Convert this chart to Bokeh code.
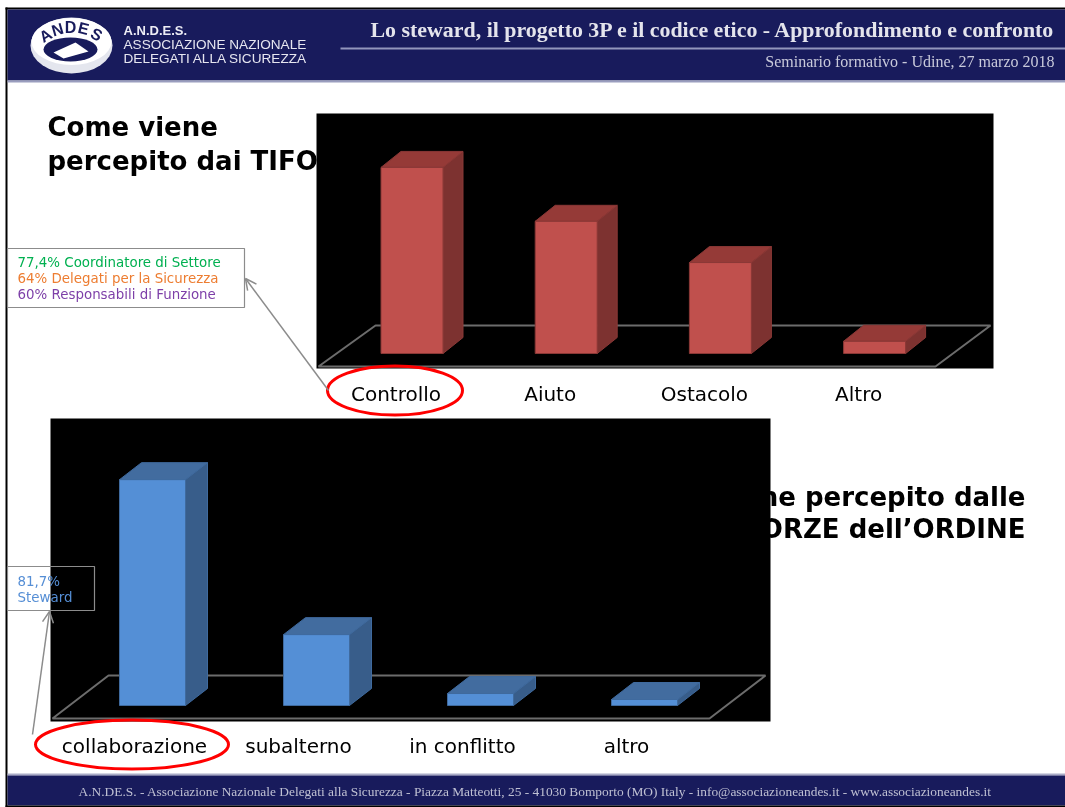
from bokeh.plotting import figure
from bokeh.models import Range1d, Arrow, OpenHead
from bokeh.core.properties import value
from bokeh.embed import file_html
from bokeh.resources import INLINE

# ---- data (share of answers, %) ----
tifosi_categories = ["Controllo", "Aiuto", "Ostacolo", "Altro"]
tifosi_values = [44.2, 31.4, 21.6, 2.9]
forze_categories = ["collaborazione", "subalterno", "in conflitto", "altro"]
forze_values = [71.7, 22.5, 3.8, 1.9]

header_title = "Lo steward, il progetto 3P e il codice etico - Approfondimento e confronto"
header_sub = "Seminario formativo - Udine, 27 marzo 2018"
footer_text = ("A.N.DE.S. - Associazione Nazionale Delegati alla Sicurezza - Piazza Matteotti, 25 - "
               "41030 Bomporto (MO) Italy - info@associazioneandes.it - www.associazioneandes.it")
logo_lines = ["A.N.D.E.S.", "ASSOCIAZIONE NAZIONALE", "DELEGATI ALLA SICUREZZA"]
logo_letters = list("ANDES")
callout_tifosi = ["77,4% Coordinatore di Settore", "64% Delegati per la Sicurezza", "60% Responsabili di Funzione"]
callout_tifosi_colors = ["#00B050", "#ED7D31", "#7D3FA8"]
callout_forze = ["81,7%", "Steward"]

W, H = 1065, 807
NAVY = "#181B5C"
VERDANA = value("DejaVu Sans")
SERIF = value("Liberation Serif")
SANS = value("Liberation Sans")

p = figure(width=W, height=H, x_range=Range1d(0, W), y_range=Range1d(H, 0),
           output_backend="svg", toolbar_location=None, x_axis_location=None, y_axis_location=None,
           min_border=0, outline_line_color=None, background_fill_color="white",
           border_fill_color="white")
p.grid.visible = False
p.styles = {"position": "fixed", "left": "0px", "top": "0px"}


def band(x0, x1, y0, y1, color):
    p.quad(left=x0, right=x1, top=y0, bottom=y1, fill_color=color, line_color=None)


def label(x, y, s, size, color="black", font=VERDANA, style="normal", align="left"):
    p.text([x], [y], text=[s], text_font=font, text_font_size=f"{size}px", text_color=color,
           text_font_style=style, text_align=align, text_baseline="middle")


# ---- slide frame, header, footer ----
band(5, 7, 7, 807, "black")
band(5, W, 7, 9, "black")
band(7, W, 9, 80, NAVY)
band(7, W, 80, 82, "#9A9DBE")
band(340, W, 47, 49, "#9296BC")
band(7, W, 773, 775, "#A9ABC6")
band(7, W, 775, 805, NAVY)
band(5, W, 805, 807, "black")

# logo
p.ellipse([71], [45], width=82, height=56, fill_color="#E4E6EE", line_color=None)
p.ellipse([71], [41], width=80, height=47, fill_color="white", line_color=None)
p.ellipse([70], [49], width=54, height=24, fill_color=NAVY, line_color=None)
p.patch([53, 75, 88, 63], [52, 42, 51, 58], fill_color="white", line_color=None)
for ch, x, y, a in zip(logo_letters, [45, 57, 70, 83, 96], [35, 29, 27, 28, 34], [0.55, 0.28, 0.0, -0.25, -0.5]):
    p.text([x], [y], text=[ch], angle=a, text_font=SANS, text_font_style="bold", text_font_size="16px",
           text_color=NAVY, text_align="center", text_baseline="middle")
label(123, 30, logo_lines[0], 13, "#EDEDF5", SANS, "bold")
label(123, 44, logo_lines[1], 13.6, "#E6E6F0", SANS)
label(123, 58, logo_lines[2], 13.6, "#E6E6F0", SANS)

label(370, 29, header_title, 21.9, "#E4E4EC", SERIF, "bold")
label(1054, 61, header_sub, 16, "#C9CADB", SERIF, align="right")
label(78, 791, footer_text, 13.4, "#BFC0D3", SERIF)

# ---- headings, partly hidden by the black chart panels ----
label(47, 126, "Come viene", 26, "black", VERDANA, "bold")
label(47, 160, "percepito dai TIFOSI", 26, "black", VERDANA, "bold")
label(1025, 496, "Come viene percepito dalle", 26, "black", VERDANA, "bold", "right")
label(1025, 528, "FORZE dell\u2019ORDINE", 26, "black", VERDANA, "bold", "right")


def chart(name, values, categories, panel, floor, x0, step, bar_w, depth_x, depth_y, base, px_per_unit,
          front, side, top, edge, label_dx, label_y):
    # a category index / value scale of its own, positioned over the slide
    xr, yr = f"x_{name}", f"y_{name}"
    p.extra_x_ranges[xr] = Range1d((0 - x0) / step, (W - x0) / step)
    p.extra_y_ranges[yr] = Range1d((base - H) / px_per_unit, base / px_per_unit)

    band(panel[0], panel[1], panel[2], panel[3], "black")
    p.patch([c[0] for c in floor], [c[1] for c in floor], fill_color=None, line_color="#6C6C6C", line_width=2)

    idx = list(range(len(values)))
    hw = bar_w / step / 2
    dx = depth_x / step
    dy = depth_y / px_per_unit
    side_xs = [[i + hw, i + hw + dx, i + hw + dx, i + hw] for i in idx]
    side_ys = [[0, dy, v + dy, v] for v in values]
    top_xs = [[i - hw, i + hw, i + hw + dx, i - hw + dx] for i in idx]
    top_ys = [[v, v, v + dy, v + dy] for v in values]
    p.patches(side_xs, side_ys, fill_color=side, line_color=edge, x_range_name=xr, y_range_name=yr)
    p.patches(top_xs, top_ys, fill_color=top, line_color=edge, x_range_name=xr, y_range_name=yr)
    p.vbar(x=idx, top=values, bottom=0, width=2 * hw, fill_color=front, line_color=edge,
           x_range_name=xr, y_range_name=yr)
    p.text([i + label_dx / step for i in idx], [(base - label_y) / px_per_unit] * len(idx), text=categories,
           text_font=VERDANA, text_font_size="20px", text_color="black", text_align="center",
           text_baseline="middle", x_range_name=xr, y_range_name=yr)


chart("tifosi", tifosi_values, tifosi_categories, (316, 993, 113, 368),
      [(318, 366), (375, 325), (990, 325), (935, 366)],
      411.5, 154.2, 62, 20, 16, 353, 421 / 100,
      "#C0504D", "#7D3230", "#953A37", "#8A3836", -16, 393)
chart("forze", forze_values, forze_categories, (50, 770, 418, 721),
      [(52, 718), (108, 675), (765, 675), (709, 718)],
      152, 164, 66, 22, 17, 705, 315 / 100,
      "#548FD6", "#385D8A", "#426C9F", "#3F6A9E", -18, 745)

# ---- call-out boxes ----
p.quad(left=7, right=244, top=248, bottom=307, fill_color="white", line_color="#8C8C8C", line_width=1.2)
for s, c, y in zip(callout_tifosi, callout_tifosi_colors, [262, 278, 294]):
    label(17, y, s, 13.4, c)
p.quad(left=7, right=94, top=566, bottom=610, fill_color=None, line_color="#8C8C8C", line_width=1.2)
for s, y in zip(callout_forze, [581, 597]):
    label(17, y, s, 13.4, "#558ED5")

# ---- red rings ----
p.ellipse([394.5], [390], width=135, height=49, fill_color=None, line_color="#FF0000", line_width=3)
p.ellipse([131.5], [744], width=193, height=49, fill_color=None, line_color="#FF0000", line_width=3)

# ---- leaders ----
for xs, ys, xe, ye in [(328, 390, 245, 278), (32, 734, 49, 611)]:
    p.add_layout(Arrow(end=OpenHead(size=11, line_color="#8C8C8C", line_width=1.5),
                       x_start=xs, y_start=ys, x_end=xe, y_end=ye,
                       line_color="#8C8C8C", line_width=1.5))

open("out.html", "w").write(file_html(p, INLINE))
